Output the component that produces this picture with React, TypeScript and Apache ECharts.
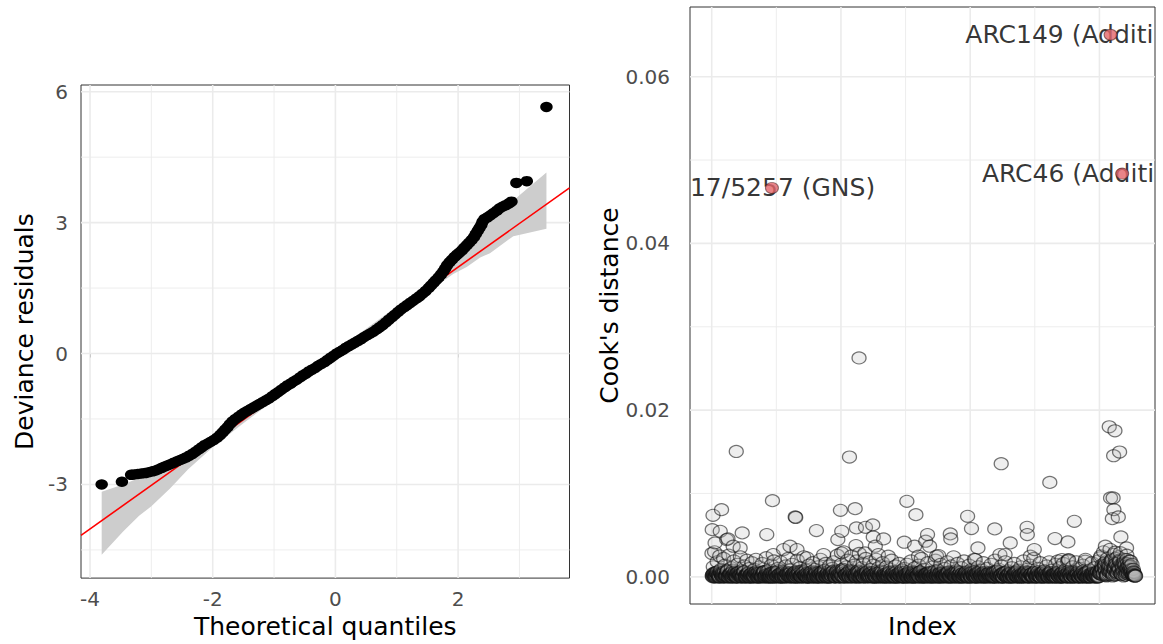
import React, { useEffect, useRef } from 'react';
import * as echarts from 'echarts';

// ---------- Left panel: QQ plot of deviance residuals ----------
const qqPairs: [number, number][] = [
  [-3.81, -3.0], [-3.48, -2.94], [-3.33, -2.78], [-3.28, -2.77], [-3.22, -2.76], [-3.16, -2.75],
  [-3.1, -2.74], [-3.04, -2.72], [-2.98, -2.7], [-2.93, -2.68], [-2.88, -2.65], [-2.83, -2.62],
  [-2.78, -2.59], [-2.73, -2.56], [-2.68, -2.53], [-2.63, -2.5], [-2.58, -2.47], [-2.53, -2.44],
  [-2.48, -2.41], [-2.43, -2.38], [-2.38, -2.34], [-2.33, -2.3], [-2.28, -2.25], [-2.23, -2.2],
  [-2.18, -2.15], [-2.13, -2.1], [-2.08, -2.06], [-2.03, -2.02], [-1.98, -1.98], [-1.93, -1.93],
  [-1.88, -1.87], [-1.84, -1.81], [-1.8, -1.75], [-1.76, -1.69], [-1.72, -1.62], [-1.68, -1.56],
  [-1.63, -1.5], [-1.58, -1.45], [-1.53, -1.4], [-1.48, -1.35], [-1.43, -1.31], [-1.38, -1.27],
  [-1.33, -1.23], [-1.28, -1.19], [-1.23, -1.15], [-1.18, -1.11], [-1.13, -1.07], [-1.08, -1.03],
  [-1.03, -0.98], [-0.98, -0.93], [-0.93, -0.88], [-0.88, -0.83], [-0.83, -0.78], [-0.78, -0.73],
  [-0.73, -0.69], [-0.68, -0.64], [-0.63, -0.6], [-0.58, -0.55], [-0.53, -0.5], [-0.48, -0.46],
  [-0.43, -0.41], [-0.38, -0.37], [-0.33, -0.33], [-0.28, -0.28], [-0.23, -0.24], [-0.18, -0.2],
  [-0.13, -0.15], [-0.08, -0.1], [-0.03, -0.05], [0.02, 0.0], [0.07, 0.04], [0.12, 0.08],
  [0.17, 0.13], [0.22, 0.17], [0.27, 0.21], [0.32, 0.25], [0.37, 0.29], [0.42, 0.33],
  [0.47, 0.38], [0.52, 0.42], [0.57, 0.46], [0.62, 0.5], [0.67, 0.55], [0.72, 0.6],
  [0.77, 0.65], [0.82, 0.71], [0.87, 0.77], [0.92, 0.83], [0.97, 0.89], [1.02, 0.95],
  [1.07, 1.01], [1.12, 1.06], [1.17, 1.11], [1.22, 1.16], [1.27, 1.21], [1.32, 1.26],
  [1.37, 1.31], [1.42, 1.37], [1.47, 1.43], [1.52, 1.5], [1.56, 1.56], [1.6, 1.62],
  [1.64, 1.68], [1.68, 1.74], [1.72, 1.81], [1.76, 1.88], [1.79, 1.95], [1.82, 2.02],
  [1.86, 2.09], [1.9, 2.15], [1.94, 2.21], [1.98, 2.26], [2.02, 2.31], [2.06, 2.36],
  [2.1, 2.42], [2.14, 2.48], [2.18, 2.54], [2.22, 2.6], [2.26, 2.67], [2.29, 2.74],
  [2.32, 2.81], [2.35, 2.88], [2.38, 2.95], [2.4, 3.02], [2.43, 3.08], [2.48, 3.12],
  [2.53, 3.17], [2.58, 3.22], [2.63, 3.27], [2.68, 3.33], [2.73, 3.37], [2.78, 3.4],
  [2.83, 3.44], [2.87, 3.48], [2.95, 3.91], [3.12, 3.95], [3.44, 5.65],
];
const qqLineSlope = 1.0;
const qqLineIntercept = -0.02;
const bandX = [-3.81, -3.46, -3.2, -3.0, -2.7, -2.4, -2.0, -1.5, -1.0, -0.5, 0, 0.5, 1.0, 1.5, 1.92, 2.14, 2.36, 2.52, 2.9, 3.01, 3.44];
const bandLo = [-4.61, -4.08, -3.72, -3.5, -3.1, -2.65, -2.15, -1.6, -1.07, -0.55, -0.06, 0.43, 0.92, 1.4, 1.82, 1.98, 2.2, 2.3, 2.69, 2.72, 2.86];
const bandHi = [-3.17, -3.0, -2.85, -2.72, -2.5, -2.3, -1.9, -1.4, -0.93, -0.45, 0.06, 0.57, 1.08, 1.62, 2.1, 2.46, 2.7, 3.0, 3.5, 3.64, 4.15];
const qqXTicks = [-4, -2, 0, 2];
const qqXMinor = [-3, -1, 1, 3];
const qqYTicks = [-3, 0, 3, 6];
const qqYMinor = [-4.5, -1.5, 1.5, 4.5];

// ---------- Right panel: Cook's distance by index ----------
// low background band, in units of 1e-4; index = 5*i + offset
const cookBase1 = [ // offset 1
  28, 12, 30, 5, 18, 2, 25, 9, 3, 22, 14, 1, 8, 26, 4, 11, 2, 19, 6, 0, 15, 3, 24, 7, 1, 13, 2, 20, 5, 10,
  3, 17, 1, 9, 21, 4, 0, 12, 2, 16, 6, 1, 23, 3, 8, 0, 14, 2, 19, 5, 1, 10, 3, 18, 0, 7, 2, 13, 4, 22,
  1, 9, 15, 2, 5, 0, 20, 3, 11, 1, 6, 24, 2, 8, 0, 14, 4, 1, 17, 3, 9, 0, 12, 2, 21, 5, 1, 7, 16, 3,
  0, 13, 2, 10, 18, 4, 1, 26, 6, 2, 15, 9, 30, 3, 12, 20, 1, 8, 25, 4, 14, 2, 19, 7, 28, 1, 11, 16, 3, 22,
  6, 1, 18, 9, 2, 14, 0, 21, 4, 11, 1, 7, 17, 2, 0, 12, 5, 1, 9, 20, 3, 0, 13, 6, 1, 16, 2, 8, 0, 10,
  3, 15, 1, 7, 19, 2, 0, 11, 4, 1, 14, 6, 22, 0, 9, 3, 1, 17, 2, 5, 0, 12, 3, 20, 1, 8, 0, 15, 4, 2,
  10, 1, 18, 5, 0, 13, 3, 24, 1, 7, 16, 2, 0, 11, 4, 19, 1, 6, 0, 14, 2, 9, 1, 21, 3, 0, 12, 5, 1, 8,
  17, 2, 0, 10, 4, 1, 15, 3, 0, 20, 6, 1, 9, 2, 13, 0, 5, 18, 1, 7, 3, 0, 11, 2, 16, 4, 1, 8, 0, 12,
  2, 19, 5, 1, 9, 0, 14, 3, 1, 22, 6, 0, 10, 2, 17, 4, 1, 7, 0, 13, 3, 18, 1, 8, 2, 0, 15, 5, 1, 11,
  3, 0, 16, 2, 9, 1, 20, 4, 0, 12, 6, 1, 18, 3, 0, 10, 2, 14, 1, 21, 5, 0, 8, 2, 17, 1, 11, 3, 0, 19,
  4, 25, 9, 30, 14, 2, 22, 7, 33, 12, 1, 27, 18, 5, 24, 10, 29, 3, 16, 21, 8, 26, 13, 19, 6, 15, 9, 2,
];
const cookBase2 = [ // offset 2
  1, 4, 0, 2, 6, 1, 0, 3, 5, 0, 2, 1, 7, 0, 3, 1, 0, 4, 2, 0, 5, 1, 3, 0, 2, 6, 0, 1, 4, 0,
  3, 0, 2, 5, 1, 0, 4, 2, 0, 1, 6, 0, 3, 1, 0, 2, 5, 0, 1, 3, 0, 7, 2, 0, 1, 4, 0, 2, 3, 1,
  0, 5, 1, 0, 3, 2, 0, 6, 1, 0, 4, 1, 2, 0, 5, 0, 1, 3, 0, 2, 6, 1, 0, 4, 0, 2, 1, 5, 0, 3,
  2, 0, 4, 1, 7, 0, 3, 2, 0, 5, 1, 0, 8, 2, 0, 4, 1, 3, 0, 6, 2, 0, 1, 5, 0, 3, 1, 0, 4, 2,
  0, 3, 1, 5, 0, 2, 1, 0, 4, 0, 6, 1, 2, 0, 3, 1, 0, 5, 2, 0, 1, 4, 0, 3, 0, 2, 6, 1, 0, 2,
  1, 0, 4, 2, 0, 3, 0, 5, 1, 2, 0, 6, 1, 0, 3, 2, 0, 4, 1, 0, 5, 2, 0, 1, 3, 0, 4, 1, 0, 2,
  3, 1, 0, 6, 2, 0, 4, 1, 0, 3, 2, 0, 5, 1, 0, 2, 4, 0, 1, 3, 0, 6, 2, 0, 1, 4, 0, 3, 2, 0,
  0, 2, 5, 1, 0, 3, 1, 0, 6, 2, 0, 4, 1, 0, 3, 0, 2, 5, 1, 0, 4, 2, 0, 1, 3, 0, 5, 1, 0, 2,
  4, 0, 1, 3, 0, 5, 2, 0, 1, 4, 0, 2, 6, 1, 0, 3, 0, 2, 4, 1, 0, 5, 0, 2, 1, 3, 0, 4, 1, 0,
  2, 1, 0, 5, 3, 0, 1, 4, 0, 2, 0, 6, 1, 3, 0, 2, 4, 0, 1, 5, 0, 2, 3, 0, 1, 4, 2, 0, 5, 1,
  6, 3, 10, 4, 14, 2, 8, 12, 5, 18, 3, 9, 15, 6, 11, 20, 4, 13, 7, 16, 2, 10, 5, 12, 8, 3, 6, 1,
];
const cookBase3 = [ // offset 3
  2, 0, 5, 1, 3, 0, 7, 2, 0, 4, 1, 6, 0, 2, 3, 0, 8, 1, 0, 5, 2, 1, 0, 4, 6, 0, 1, 3, 0, 2,
  0, 4, 1, 0, 6, 2, 0, 3, 1, 5, 0, 2, 7, 0, 1, 4, 0, 2, 0, 3, 5, 1, 0, 2, 0, 6, 1, 0, 3, 1,
  4, 0, 2, 1, 0, 5, 3, 0, 1, 7, 0, 2, 0, 4, 1, 0, 3, 6, 0, 1, 2, 0, 5, 0, 1, 3, 0, 8, 2, 0,
  1, 3, 0, 5, 2, 0, 6, 1, 4, 0, 2, 9, 0, 3, 1, 5, 0, 2, 7, 1, 0, 4, 2, 0, 6, 1, 3, 0, 2, 5,
  0, 2, 1, 4, 0, 3, 0, 6, 1, 2, 0, 5, 0, 1, 3, 0, 2, 4, 0, 1, 6, 0, 2, 0, 3, 1, 0, 5, 2, 0,
  3, 0, 1, 4, 0, 2, 6, 0, 1, 3, 0, 2, 5, 0, 1, 0, 4, 2, 0, 3, 1, 0, 7, 2, 0, 1, 4, 0, 3, 1,
  0, 2, 5, 0, 1, 3, 0, 4, 2, 0, 6, 1, 0, 3, 0, 2, 5, 1, 0, 4, 0, 2, 1, 6, 0, 3, 1, 0, 2, 4,
  1, 0, 3, 2, 0, 5, 1, 0, 4, 0, 2, 7, 0, 1, 3, 0, 2, 5, 0, 1, 0, 4, 2, 0, 6, 1, 0, 3, 1, 0,
  2, 4, 0, 1, 6, 0, 3, 1, 0, 5, 2, 0, 1, 4, 0, 2, 0, 7, 1, 3, 0, 2, 5, 0, 1, 0, 4, 2, 0, 3,
  0, 5, 1, 2, 0, 4, 0, 3, 6, 1, 0, 2, 4, 0, 1, 3, 0, 7, 2, 0, 1, 5, 0, 2, 4, 1, 0, 3, 6, 0,
  4, 9, 2, 12, 6, 1, 15, 3, 8, 20, 5, 11, 2, 14, 7, 18, 4, 10, 1, 13, 6, 16, 3, 9, 5, 2, 1,
];
const cookBase4 = [ // offset 4
  0, 3, 1, 5, 0, 2, 4, 0, 1, 6, 0, 2, 1, 3, 0, 5, 2, 0, 1, 4, 0, 3, 2, 0, 6, 1, 0, 2, 5, 0,
  1, 2, 0, 4, 3, 0, 1, 5, 0, 2, 6, 1, 0, 3, 1, 0, 4, 2, 0, 5, 1, 0, 3, 2, 0, 1, 6, 0, 2, 4,
  0, 1, 3, 0, 6, 2, 0, 4, 1, 0, 5, 2, 1, 0, 3, 0, 6, 1, 2, 0, 4, 0, 1, 3, 5, 0, 2, 1, 0, 4,
  3, 0, 2, 6, 1, 0, 5, 2, 0, 3, 1, 7, 0, 2, 4, 0, 1, 5, 0, 3, 2, 0, 6, 1, 0, 4, 2, 0, 1, 3,
  2, 0, 5, 1, 0, 3, 4, 0, 2, 1, 0, 6, 3, 0, 1, 2, 0, 5, 0, 4, 1, 0, 3, 2, 0, 1, 5, 0, 2, 3,
  0, 4, 2, 0, 1, 5, 0, 3, 0, 2, 6, 0, 1, 4, 0, 3, 1, 0, 2, 5, 0, 1, 3, 0, 6, 2, 0, 4, 1, 0,
  2, 0, 3, 1, 0, 5, 2, 0, 4, 1, 0, 3, 6, 0, 2, 1, 0, 4, 3, 0, 1, 5, 0, 2, 0, 3, 6, 1, 0, 2,
  5, 0, 1, 3, 2, 0, 4, 1, 0, 6, 2, 0, 3, 1, 0, 5, 2, 0, 1, 4, 0, 3, 0, 2, 5, 1, 0, 4, 2, 0,
  1, 3, 0, 2, 5, 0, 1, 4, 0, 3, 2, 0, 6, 1, 0, 4, 2, 0, 3, 1, 0, 5, 2, 0, 1, 4, 0, 3, 6, 0,
  0, 2, 4, 1, 0, 6, 2, 0, 3, 1, 0, 5, 2, 0, 4, 1, 0, 3, 2, 0, 6, 1, 0, 4, 2, 0, 3, 1, 0, 5,
  5, 11, 3, 16, 8, 2, 13, 6, 19, 4, 10, 7, 22, 3, 12, 9, 15, 5, 17, 2, 11, 6, 14, 4, 9, 2, 5, 1,
];
const cookBase5 = [ // offset 5
  3, 1, 0, 4, 2, 0, 5, 1, 3, 0, 2, 6, 0, 1, 4, 0, 2, 3, 1, 0, 5, 2, 0, 1, 6, 0, 3, 1, 0, 2,
  4, 0, 1, 3, 0, 5, 2, 0, 1, 4, 0, 2, 6, 0, 3, 1, 0, 5, 2, 0, 1, 3, 0, 4, 2, 0, 1, 5, 0, 3,
  1, 0, 4, 2, 0, 3, 5, 0, 1, 2, 0, 6, 1, 0, 3, 2, 0, 4, 0, 1, 5, 2, 0, 3, 1, 0, 4, 2, 0, 6,
  0, 5, 1, 3, 0, 2, 7, 1, 0, 4, 2, 0, 5, 3, 0, 1, 6, 0, 2, 4, 1, 0, 3, 5, 0, 2, 1, 6, 0, 4,
  1, 3, 0, 2, 5, 0, 1, 4, 0, 2, 3, 0, 1, 6, 0, 2, 4, 0, 3, 1, 0, 5, 2, 0, 4, 1, 0, 3, 0, 6,
  2, 0, 5, 1, 0, 3, 2, 0, 4, 1, 0, 6, 2, 0, 1, 3, 0, 5, 2, 0, 4, 1, 0, 2, 3, 0, 5, 1, 0, 3,
  1, 4, 0, 2, 6, 0, 3, 1, 0, 5, 2, 0, 1, 3, 0, 4, 2, 0, 6, 1, 0, 3, 2, 0, 5, 1, 0, 2, 4, 0,
  3, 1, 0, 4, 2, 0, 1, 5, 0, 3, 1, 0, 6, 2, 0, 4, 1, 0, 2, 3, 0, 5, 1, 0, 2, 6, 0, 1, 3, 0,
  0, 2, 6, 1, 0, 4, 3, 0, 1, 5, 0, 2, 1, 0, 4, 2, 0, 3, 6, 0, 1, 4, 0, 2, 5, 1, 0, 3, 0, 2,
  5, 0, 2, 1, 0, 4, 3, 0, 6, 1, 0, 2, 5, 0, 3, 1, 0, 4, 2, 0, 1, 6, 0, 3, 2, 0, 5, 1, 0, 4,
  7, 14, 4, 10, 18, 3, 9, 13, 6, 21, 2, 11, 16, 5, 8, 19, 3, 12, 6, 15, 4, 10, 7, 13, 5, 3, 2, 1,
];
// points that stand out above the band
const cookIdx = [
  95, 533, 570, 1120, 1308, 1538, 1560, 1555, 1578, 1543, 1553, 1556, 1550, 1573, 1583, 1523, 1605, 1561,
  5, 38, 2, 33, 118, 13, 63, 83, 235, 213, 323, 325, 405, 498, 555, 503, 488, 560, 595, 623, 558,
  625, 665, 633, 755, 790, 745, 785, 835, 828, 843, 923, 925, 990, 1005, 1030, 1095, 1155, 1220,
  1221, 1248, 1328, 1378, 1403, 1233, 1135, 878, 1340, 1377, 58, 110, 303, 330, 238, 278, 368, 433, 502,
  800, 870, 1020, 593, 645, 683, 1606, 1620, 1355, 1380, 1445, 1503, 1115, 1633,
];
const cookVal = [
  0.01504, 0.01437, 0.02626, 0.01357, 0.01133, 0.018, 0.01752, 0.01453, 0.01497, 0.00946, 0.00946, 0.00806, 0.00698, 0.00719, 0.00479, 0.00367, 0.00347, 0.00295,
  0.00738, 0.00806, 0.00566, 0.00546, 0.00527, 0.00407, 0.00455, 0.00367, 0.00914, 0.00507, 0.00718, 0.00712, 0.00555, 0.00798, 0.00818, 0.00546, 0.00447, 0.00587, 0.00594, 0.00623, 0.00375,
  0.00479, 0.00455, 0.00367, 0.00906, 0.00746, 0.00415, 0.00367, 0.00507, 0.00427, 0.00367, 0.00515, 0.00455, 0.00726, 0.00579, 0.00347, 0.00575, 0.00407, 0.00594,
  0.00507, 0.00327, 0.00459, 0.00419, 0.00666, 0.00247, 0.00267, 0.00255, 0.0019, 0.0019, 0.00447, 0.00347, 0.00367, 0.00327, 0.00267, 0.00327, 0.00228, 0.00267, 0.00287,
  0.00247, 0.00247, 0.00207, 0.00287, 0.00267, 0.00247, 0.00207, 0.00187, 0.00207, 0.00207, 0.00187, 0.00228, 0.00267, 0.0003,
];
const flagIdx = [233, 1543, 1588];
const flagVal = [0.04665, 0.06503, 0.04838];
const flagLabel = ['17/5257 (GNS)', 'ARC149 (Additi', 'ARC46 (Additi'];
const cookYTicks = [0, 0.02, 0.04, 0.06];
const cookYMinor = [0.01, 0.03, 0.05];
const cookXMajor = [0, 500, 1000, 1500];
const cookXMinor = [250, 750, 1250];

const FONT = 'DejaVu Sans';
const GRID_COLOR = '#EBEBEB';

function vLines(axisIdx: number, values: number[], yRef: number, width: number) {
  return {
    type: 'custom', xAxisIndex: axisIdx, yAxisIndex: axisIdx, silent: true, z: 1,
    data: values.map((v) => [v, yRef]),
    encode: { x: 0, y: 1 },
    renderItem: (params: any, api: any) => {
      const cs = params.coordSys;
      const x = api.coord([api.value(0), api.value(1)])[0];
      return { type: 'line', shape: { x1: x, y1: cs.y, x2: x, y2: cs.y + cs.height }, style: { stroke: GRID_COLOR, lineWidth: width } };
    },
  };
}
function hLines(axisIdx: number, values: number[], xRef: number, width: number) {
  return {
    type: 'custom', xAxisIndex: axisIdx, yAxisIndex: axisIdx, silent: true, z: 1,
    data: values.map((v) => [xRef, v]),
    encode: { x: 0, y: 1 },
    renderItem: (params: any, api: any) => {
      const cs = params.coordSys;
      const y = api.coord([api.value(0), api.value(1)])[1];
      return { type: 'line', shape: { x1: cs.x, y1: y, x2: cs.x + cs.width, y2: y }, style: { stroke: GRID_COLOR, lineWidth: width } };
    },
  };
}

export default function App() {
  const ref = useRef<HTMLDivElement>(null);
  useEffect(() => {
    if (!ref.current) return;
    const chart = echarts.init(ref.current, null, { renderer: 'svg' });
    const qqXMin = -4.147, qqXMax = 3.816;
    const cookData: [number, number][] = [];
    [cookBase1, cookBase2, cookBase3, cookBase4, cookBase5].forEach((arr, k) => {
      arr.forEach((v, i) => cookData.push([5 * i + k + 1, v / 10000]));
    });
    cookIdx.forEach((ix, i) => cookData.push([ix, cookVal[i]]));
    cookData.sort((a, b) => a[0] - b[0]);

    const labelOffsets = [
      { align: 'left', offset: [-82, 0] },
      { align: 'right', offset: [43, 0] },
      { align: 'right', offset: [32, 0] },
    ];

    const axisLabelStyle = { color: '#4D4D4D', fontSize: 20, fontFamily: FONT };
    const nameStyle = { color: '#000000', fontSize: 25, fontFamily: FONT };
    const tickStyle = { show: true, length: 4, lineStyle: { color: '#333333', width: 1 } };

    chart.setOption({
      animation: false,
      backgroundColor: '#FFFFFF',
      grid: [
        { left: 81, top: 85, width: 488.5, height: 495, show: true, borderColor: '#333333', borderWidth: 1, backgroundColor: 'transparent', containLabel: false },
        { left: 690, top: 7, width: 465, height: 597.5, show: true, borderColor: '#333333', borderWidth: 1, backgroundColor: 'transparent', containLabel: false },
      ],
      xAxis: [
        {
          type: 'value', gridIndex: 0, min: qqXMin, max: qqXMax,
          splitLine: { show: false }, axisLine: { show: false },
          axisTick: { ...tickStyle, customValues: qqXTicks },
          axisLabel: { ...axisLabelStyle, customValues: qqXTicks, margin: 11, formatter: (v: number) => String(v) },
          name: 'Theoretical quantiles', nameLocation: 'middle', nameGap: 34, nameTextStyle: nameStyle,
        },
        {
          type: 'value', gridIndex: 1, min: -84, max: 1715,
          splitLine: { show: false }, axisLine: { show: false }, axisTick: { show: false }, axisLabel: { show: false },
          name: 'Index', nameLocation: 'middle', nameGap: 10, nameTextStyle: nameStyle,
        },
      ],
      yAxis: [
        {
          type: 'value', gridIndex: 0, min: -5.146, max: 6.153,
          splitLine: { show: false }, axisLine: { show: false },
          axisTick: { ...tickStyle, customValues: qqYTicks },
          axisLabel: { ...axisLabelStyle, customValues: qqYTicks, margin: 13, formatter: (v: number) => String(v) },
          name: 'Deviance residuals', nameLocation: 'middle', nameGap: 44, nameTextStyle: nameStyle,
        },
        {
          type: 'value', gridIndex: 1, min: -0.00326, max: 0.06836,
          splitLine: { show: false }, axisLine: { show: false },
          axisTick: { ...tickStyle, customValues: cookYTicks },
          axisLabel: { ...axisLabelStyle, customValues: cookYTicks, margin: 20, formatter: (v: number) => v.toFixed(2) },
          name: "Cook's distance", nameLocation: 'middle', nameGap: 64, nameTextStyle: nameStyle,
        },
      ],
      series: [
        vLines(0, qqXMinor, 0, 0.9),
        hLines(0, qqYMinor, 0, 0.9),
        vLines(0, qqXTicks, 0, 1.6),
        hLines(0, qqYTicks, 0, 1.6),
        {
          type: 'custom', xAxisIndex: 0, yAxisIndex: 0, silent: true, z: 2,
          data: bandX.map((x, i) => [x, bandLo[i], bandHi[i]]),
          encode: { x: 0, y: [1, 2] },
          renderItem: (params: any, api: any) => {
            if (params.dataIndex !== 0) return { type: 'group', children: [] };
            const pts: number[][] = [];
            for (let i = 0; i < bandX.length; i++) pts.push(api.coord([bandX[i], bandHi[i]]));
            for (let i = bandX.length - 1; i >= 0; i--) pts.push(api.coord([bandX[i], bandLo[i]]));
            return { type: 'polygon', shape: { points: pts }, style: { fill: '#CDCDCD' } };
          },
        },
        {
          type: 'line', xAxisIndex: 0, yAxisIndex: 0, z: 3, showSymbol: false, silent: true,
          data: [
            [qqXMin, qqLineIntercept + qqLineSlope * qqXMin],
            [qqXMax, qqLineIntercept + qqLineSlope * qqXMax],
          ],
          lineStyle: { color: '#FF0000', width: 1.6 },
        },
        {
          type: 'scatter', xAxisIndex: 0, yAxisIndex: 0, z: 4, silent: true,
          symbol: 'circle', symbolSize: [12.5, 10.5],
          data: qqPairs,
          itemStyle: { color: '#000000', opacity: 1 },
        },
        vLines(1, cookXMinor, 0, 0.9),
        hLines(1, cookYMinor, 0, 0.9),
        vLines(1, cookXMajor, 0, 1.6),
        hLines(1, cookYTicks, 0, 1.6),
        {
          type: 'scatter', xAxisIndex: 1, yAxisIndex: 1, z: 4, silent: true, large: false,
          symbol: 'circle', symbolSize: [14, 12],
          data: cookData,
          itemStyle: { color: 'rgba(185,185,185,0.3)', borderColor: 'rgba(15,15,15,0.72)', borderWidth: 1.2 },
        },
        {
          // point labels (drawn under the highlighted points)
          type: 'scatter', xAxisIndex: 1, yAxisIndex: 1, z: 5, silent: true,
          symbol: 'circle', symbolSize: 1,
          data: flagIdx.map((ix, i) => ({
            value: [ix, flagVal[i]],
            label: {
              show: true, position: 'inside', formatter: flagLabel[i],
              align: labelOffsets[i].align, offset: labelOffsets[i].offset,
              color: '#000000', fontSize: 25, fontFamily: FONT,
            },
          })),
          itemStyle: { color: 'rgba(0,0,0,0)' },
        },
        {
          type: 'scatter', xAxisIndex: 1, yAxisIndex: 1, z: 6, silent: true,
          symbol: 'circle', symbolSize: [13, 11],
          data: flagIdx.map((ix, i) => [ix, flagVal[i]]),
          itemStyle: { color: '#E4656A', borderColor: 'rgba(70,30,30,0.7)', borderWidth: 1 },
        },
      ],
    });
    return () => chart.dispose();
  }, []);
  return <div ref={ref} style={{ position: 'fixed', left: 0, top: 0, width: 1163, height: 644, background: '#fff' }} />;
}
